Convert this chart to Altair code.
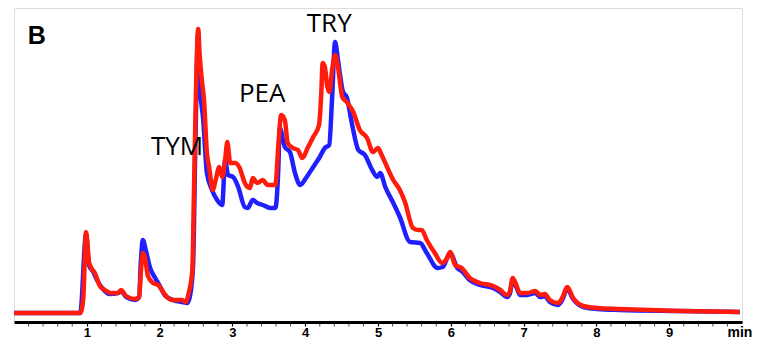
import altair as alt
import pandas as pd

# Retention time (min) and detector response (arbitrary units)
blue_t = [0.0, 0.91, 0.99, 1.03, 1.09, 1.14, 1.21, 1.32, 1.43, 1.47, 1.54, 1.66, 1.72, 1.74, 1.77, 1.81,
          1.87, 1.94, 2.01, 2.07, 2.18, 2.31, 2.38, 2.42, 2.46, 2.49, 2.53, 2.55, 2.60, 2.65, 2.72, 2.79,
          2.86, 2.90, 2.94, 3.01, 3.08, 3.17, 3.21, 3.28, 3.34, 3.42, 3.52, 3.59, 3.63, 3.65, 3.72, 3.79,
          3.86, 3.93, 4.02, 4.11, 4.20, 4.27, 4.33, 4.37, 4.41, 4.45, 4.52, 4.57, 4.64, 4.73, 4.82, 4.92,
          4.99, 5.03, 5.10, 5.21, 5.30, 5.44, 5.58, 5.67, 5.82, 5.89, 5.99, 6.09, 6.15, 6.26, 6.40, 6.58,
          6.68, 6.77, 6.81, 6.85, 6.90, 6.95, 7.05, 7.16, 7.23, 7.29, 7.36, 7.47, 7.53, 7.60, 7.68, 7.82,
          8.01, 8.32, 9.15, 9.97]
blue_v = [0, 0, 79, 48, 41, 33, 25, 19, 20, 22, 16, 13, 16, 48, 73, 63,
          45, 35, 26, 18, 13, 11, 10, 18, 48, 163, 280, 231, 193, 140, 123, 113,
          108, 153, 138, 136, 126, 106, 105, 113, 110, 108, 105, 105, 143, 185, 166, 161,
          140, 128, 136, 146, 156, 165, 168, 216, 271, 253, 221, 216, 190, 163, 158, 143,
          136, 140, 126, 110, 96, 71, 70, 60, 45, 46, 60, 45, 42, 33, 28, 25,
          21, 16, 19, 33, 26, 18, 18, 20, 16, 17, 11, 8, 13, 24, 14, 6,
          4, 3, 2, 1]

red_t = [0.0, 0.91, 0.95, 0.99, 1.03, 1.07, 1.11, 1.18, 1.25, 1.32, 1.43, 1.47, 1.54, 1.66, 1.72, 1.74,
         1.77, 1.80, 1.84, 1.91, 1.98, 2.05, 2.10, 2.18, 2.31, 2.36, 2.40, 2.45, 2.47, 2.50, 2.53, 2.55,
         2.58, 2.61, 2.65, 2.68, 2.73, 2.77, 2.82, 2.86, 2.90, 2.93, 2.97, 3.04, 3.10, 3.17, 3.24, 3.28,
         3.34, 3.42, 3.48, 3.59, 3.63, 3.67, 3.72, 3.76, 3.83, 3.90, 3.96, 4.04, 4.11, 4.19, 4.22, 4.24,
         4.27, 4.30, 4.33, 4.37, 4.41, 4.45, 4.51, 4.57, 4.66, 4.75, 4.85, 4.93, 5.00, 5.05, 5.10, 5.21,
         5.30, 5.37, 5.48, 5.55, 5.60, 5.67, 5.78, 5.88, 5.95, 5.99, 6.06, 6.15, 6.26, 6.40, 6.58, 6.68,
         6.77, 6.81, 6.85, 6.90, 6.95, 7.05, 7.16, 7.23, 7.29, 7.36, 7.47, 7.53, 7.60, 7.68, 7.82, 8.01,
         8.32, 9.15, 9.97]
red_v = [0, 0, 13, 81, 51, 44, 40, 27, 23, 20, 20, 23, 17, 14, 16, 38,
         60, 55, 37, 30, 28, 21, 16, 13, 13, 11, 20, 43, 113, 223, 284, 258,
         233, 213, 160, 146, 123, 133, 146, 136, 153, 171, 150, 150, 145, 130, 125, 135,
         130, 133, 128, 128, 166, 198, 193, 170, 165, 163, 155, 166, 176, 188, 218, 250,
         246, 228, 221, 243, 258, 246, 216, 211, 201, 183, 175, 161, 165, 158, 150, 133,
         123, 111, 85, 83, 83, 73, 60, 50, 55, 61, 48, 45, 35, 30, 27, 23,
         18, 21, 35, 28, 20, 20, 22, 18, 19, 13, 10, 15, 26, 15, 7, 5,
         4, 2, 1]

peak_names = ["TYM", "PEA", "TRY"]
peak_t = [2.24, 3.41, 4.33]
peak_v = [158, 211, 281]

panel_label = ["B"]
panel_t = [0.19]
panel_v = [269]

major_ticks = [1, 2, 3, 4, 5, 6, 7, 8, 9]
minor_ticks = [round(i * 0.2, 1) for i in range(1, 50) if i % 5 != 0]

PLOT_H = 314

blue_df = pd.DataFrame({"t": blue_t, "v": blue_v})
red_df = pd.DataFrame({"t": red_t, "v": red_v})
peaks_df = pd.DataFrame({"name": peak_names, "t": peak_t, "v": peak_v})
panel_df = pd.DataFrame({"name": panel_label, "t": panel_t, "v": panel_v})
minor_df = pd.DataFrame({"t": minor_ticks})

x_scale = alt.Scale(domain=[0, 10], nice=False, zero=False)
y_scale = alt.Scale(domain=[-9, 305], nice=False, zero=False)

x_axis = alt.Axis(
    values=major_ticks,
    format="d",
    labelOverlap=False,
    labelFont="Liberation Sans",
    labelFontWeight="bold",
    labelFontSize=13,
    labelColor="black",
    labelPadding=0,
    tickColor="black",
    tickWidth=1.2,
    tickSize=4,
    domainColor="black",
    domainWidth=3,
    grid=False,
    title="min",
    titleFont="Liberation Sans",
    titleFontWeight="bold",
    titleFontSize=14,
    titleColor="black",
    titleAnchor="start",
    titleAlign="left",
    titleBaseline="bottom",
    titleX=713,
    titleY=17,
)

blue_line = alt.Chart(blue_df).mark_line(
    color="#2020ff", strokeWidth=4.5, interpolate="monotone"
).encode(
    x=alt.X("t:Q", scale=x_scale, axis=x_axis),
    y=alt.Y("v:Q", scale=y_scale, axis=None),
)

red_line = alt.Chart(red_df).mark_line(
    color="#ff1c0c", strokeWidth=4.5, interpolate="monotone"
).encode(
    x=alt.X("t:Q", scale=x_scale),
    y=alt.Y("v:Q", scale=y_scale),
)

minor = alt.Chart(minor_df).mark_tick(
    color="black", size=3, thickness=1
).encode(
    x=alt.X("t:Q", scale=x_scale),
    y=alt.value(PLOT_H + 3),
)

peak_text = alt.Chart(peaks_df).mark_text(
    font="Open Sans", fontSize=26, color="black", align="center", baseline="alphabetic"
).encode(
    x=alt.X("t:Q", scale=x_scale),
    y=alt.Y("v:Q", scale=y_scale),
    text="name:N",
)

panel_text = alt.Chart(panel_df).mark_text(
    font="Liberation Sans", fontSize=25, fontWeight="bold", color="black",
    align="left", baseline="alphabetic"
).encode(
    x=alt.X("t:Q", scale=x_scale),
    y=alt.Y("v:Q", scale=y_scale),
    text="name:N",
)

chart = alt.layer(blue_line, red_line, minor, peak_text, panel_text).properties(
    width=728,
    height=PLOT_H,
    padding={"left": 6, "top": 0, "right": 10, "bottom": 19},
    autosize=alt.AutoSizeParams(type="none"),
).configure_view(stroke=None).configure(background="white")

chart.save("out.html", embed_options={"renderer": "svg", "actions": False})
